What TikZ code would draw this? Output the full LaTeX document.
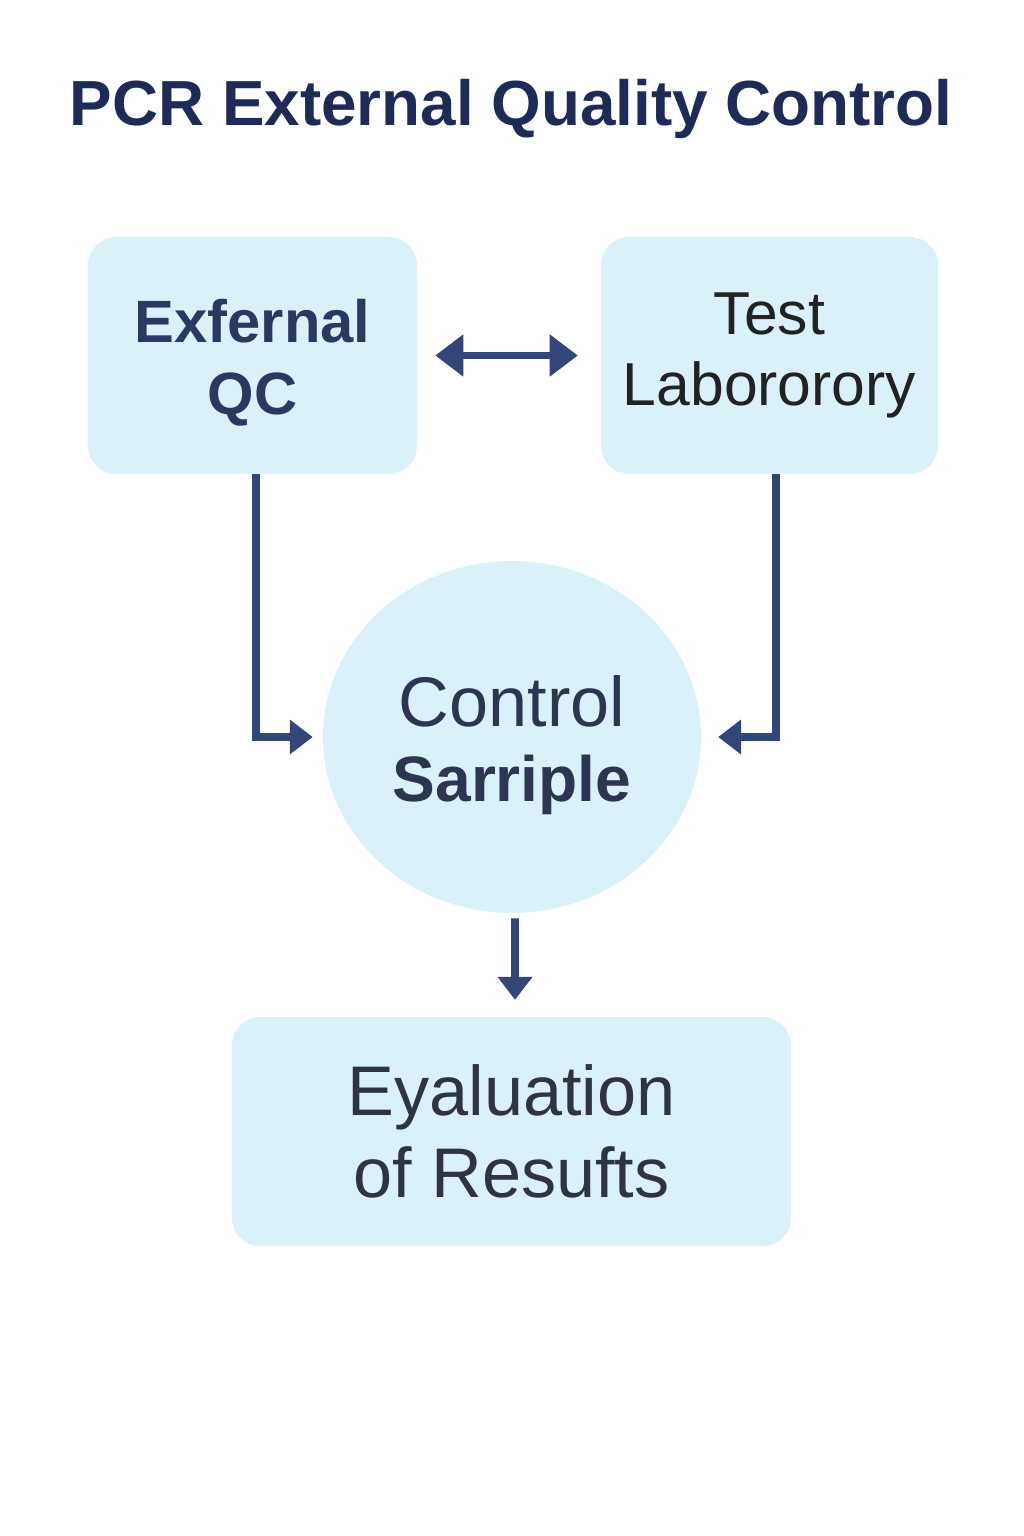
\documentclass[tikz,border=0pt]{standalone}
\usepackage{fontspec}
\setmainfont{Liberation Sans}
\usetikzlibrary{arrows.meta,shapes.geometric}
\definecolor{boxfill}{HTML}{DAF1FA}
\definecolor{arrowc}{HTML}{33467A}
\definecolor{titlec}{HTML}{1E2A58}
\definecolor{navyt}{HTML}{2A3961}
\definecolor{darkt}{HTML}{222222}
\definecolor{ctrlt}{HTML}{2D3650}
\definecolor{evalt}{HTML}{2F3445}
\tikzset{
  pbox/.style={draw=none, fill=boxfill, rounded corners=0.56cm, align=center, inner sep=0pt},
  conn/.style={draw=arrowc, line width=4.5pt},
  midtip/.style={-{Triangle[length=13pt,width=19pt]}},
}
\begin{document}
\begin{tikzpicture}[x=0.02cm,y=-0.02cm]
\path[use as bounding box, fill=white] (0,0) rectangle (1024,1536);
\node[anchor=base, text=titlec, font=\fontsize{36.3}{40}\selectfont\bfseries] (title) at (511,125) {PCR External Quality Control};
\node[pbox, minimum width=6.58cm, minimum height=4.74cm, text=navyt, font=\fontsize{34}{40.8}\selectfont\bfseries] (ext) at (252.5,355.5) {\rule{0pt}{33pt}Exfernal\\QC};
\node[pbox, minimum width=6.74cm, minimum height=4.74cm, text=darkt, font=\fontsize{34.5}{40}\selectfont] (lab) at (769.5,355.5) {Test\\Labororory};
\node[ellipse, fill=boxfill, minimum width=7.56cm, minimum height=7.04cm, align=center, inner sep=0pt, text=ctrlt, font=\fontsize{40}{42.5}\selectfont] (samp) at (512,737) {\rule{0pt}{38pt}Control\\{\fontsize{36.5}{42.5}\selectfont\bfseries Sarriple}};
\node[pbox, minimum width=11.18cm, minimum height=4.58cm, text=evalt, font=\fontsize{40}{46.5}\selectfont] (eval) at (511.5,1131.5) {Eyaluation\\of Resufts};
\draw[conn, {Triangle[length=16pt,width=23pt]}-{Triangle[length=16pt,width=23pt]}, shorten <=10.2pt, shorten >=13pt] (ext.east) -- (lab.west);
\draw[conn, midtip, shorten >=5.7pt] ([xshift=3.5*0.02cm]ext.south) |- (samp.west);
\draw[conn, midtip, shorten >=9.6pt] ([xshift=6.5*0.02cm]lab.south) |- (samp.east);
\draw[conn, midtip, shorten <=2.8pt, shorten >=9.6pt] ([xshift=3*0.02cm]samp.south) -- ([xshift=3.5*0.02cm]eval.north);
\end{tikzpicture}
\end{document}
